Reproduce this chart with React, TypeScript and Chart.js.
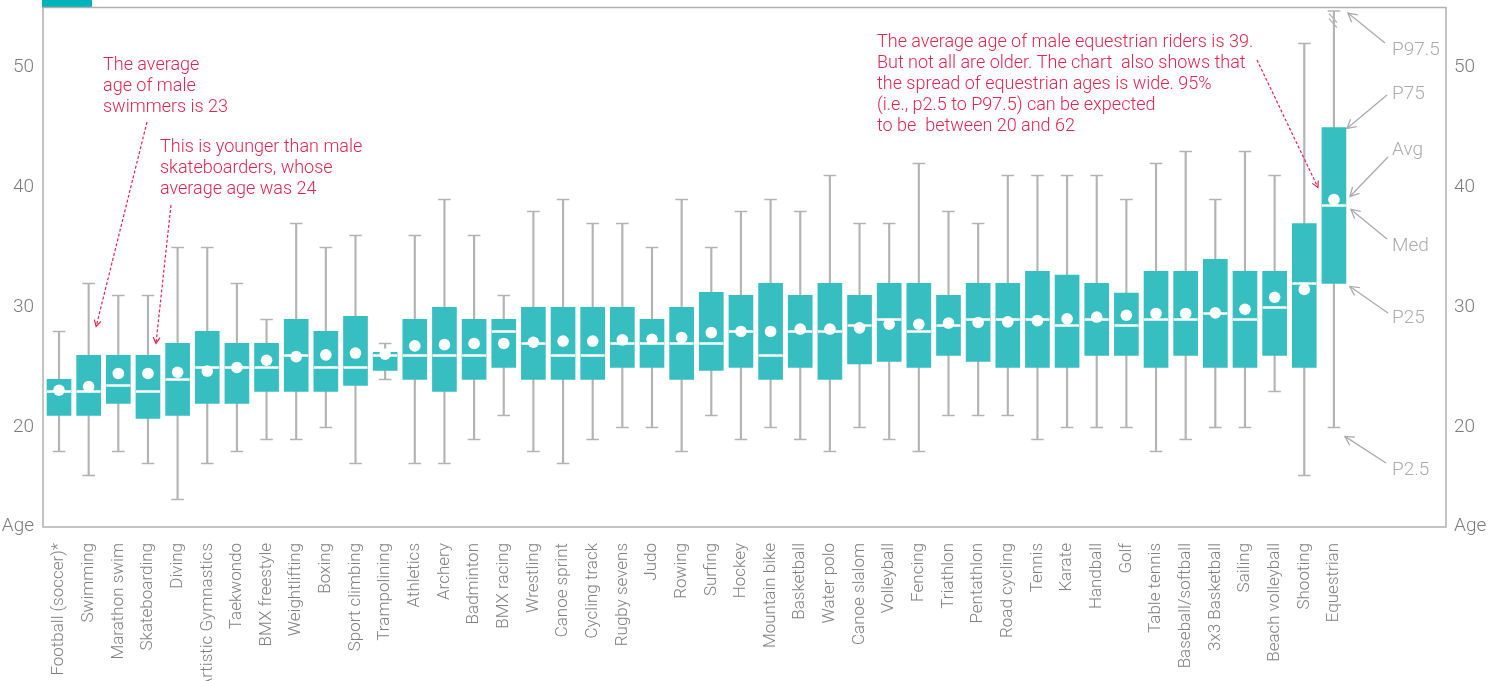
import React, { useEffect, useRef } from 'react';
import { Chart, registerables } from 'chart.js';

Chart.register(...registerables);

// ---------- data ----------
const categories = [
  'Football (soccer)*', 'Swimming', 'Marathon swim', 'Skateboarding', 'Diving',
  'Artistic Gymnastics', 'Taekwondo', 'BMX freestyle', 'Weightlifting', 'Boxing',
  'Sport climbing', 'Trampolining', 'Athletics', 'Archery', 'Badminton',
  'BMX racing', 'Wrestling', 'Canoe sprint', 'Cycling track', 'Rugby sevens',
  'Judo', 'Rowing', 'Surfing', 'Hockey', 'Mountain bike',
  'Basketball', 'Water polo', 'Canoe slalom', 'Volleyball', 'Fencing',
  'Triathlon', 'Pentathlon', 'Road cycling', 'Tennis', 'Karate',
  'Handball', 'Golf', 'Table tennis', 'Baseball/softball', '3x3 Basketball',
  'Sailing', 'Beach volleyball', 'Shooting', 'Equestrian',
];

const p025 = [18, 16, 18, 17, 14, 17, 18, 19, 19, 20, 17, 24, 17, 17, 19, 21, 18, 17, 19, 20, 20, 18, 21, 19, 20, 19, 18, 20, 19, 18, 21, 21, 21, 19, 20, 20, 20, 18, 19, 20, 20, 23, 16, 20];
const p25 = [21, 21, 22, 20.75, 21, 22, 22, 23, 23, 23, 23.5, 24.75, 24, 23, 24, 25, 24, 24, 24, 25, 25, 24, 24.75, 25, 24, 25, 24, 25.3, 25.5, 25, 26, 25.5, 25, 25, 25, 26, 26, 25, 26, 25, 25, 26, 25, 32];
const median = [23, 23, 23.5, 23, 24, 25, 25, 25, 26, 25, 25, 26, 26, 26, 26, 28, 27, 26, 26, 27, 27, 27, 27, 28, 26, 28, 28, 28.5, 29, 28, 28.5, 29, 29, 29, 28.5, 29, 28.5, 29, 29, 29.5, 29, 30, 32, 38.5];
const p75 = [24, 26, 26, 26, 27, 28, 27, 27, 29, 28, 29.25, 26.25, 29, 30, 29, 29, 30, 30, 30, 30, 29, 30, 31.25, 31, 32, 31, 32, 31, 32, 32, 31, 32, 32, 33, 32.7, 32, 31.2, 33, 33, 34, 33, 33, 37, 45];
const p975 = [28, 32, 31, 31, 35, 35, 32, 29, 37, 35, 36, 27, 36, 39, 36, 31, 38, 39, 37, 37, 35, 39, 35, 38, 39, 38, 41, 37, 37, 42, 38, 37, 41, 41, 41, 41, 39, 42, 43, 39, 43, 41, 52, 62];
const average = [23.1, 23.4, 24.5, 24.5, 24.6, 24.7, 25.0, 25.6, 25.9, 26.05, 26.2, 26.1, 26.8, 26.9, 27.0, 27.0, 27.1, 27.2, 27.2, 27.3, 27.35, 27.5, 27.9, 28.0, 28.0, 28.2, 28.2, 28.3, 28.6, 28.6, 28.7, 28.75, 28.8, 28.9, 29.05, 29.2, 29.35, 29.5, 29.5, 29.55, 29.85, 30.85, 31.5, 39];

const yTickValues = [20, 30, 40, 50];
const ageTickLabel = 'Age';

const swimNote = ['The average', 'age of male', 'swimmers is 23'];
const skateNote = ['This is younger than male', 'skateboarders, whose', 'average age was 24'];
const equestrianNote = [
  'The average age of male equestrian riders is 39.',
  'But not all are older. The chart  also shows that',
  'the spread of equestrian ages is wide. 95%',
  '(i.e., p2.5 to P97.5) can be expected',
  'to be  between 20 and 62',
];
const keyLabels = ['P97.5', 'P75', 'Avg', 'Med', 'P25', 'P2.5'];

// ---------- layout / style ----------
const W = 1495;
const H = 681;
const Y_MIN = 11.7;
const Y_MAX = 55;
const X_MIN = -0.54;
const X_MAX = 46.78;
const AGE_TICK = 11.78;

const TEAL = '#36bec1';
const TITLE_TEAL = '#00b3b8';
const WHISKER = '#b3b3b3';
const FRAME = '#b0b0b0';
const RED = '#e2254f';
const AXIS_TEXT = '#7c7c7c';
const KEY_TEXT = '#ababab';
const FONT = 'Roboto, "Open Sans", sans-serif';

function drawArrowHead(ctx: CanvasRenderingContext2D, x1: number, y1: number, x2: number, y2: number, size: number) {
  const ang = Math.atan2(y2 - y1, x2 - x1);
  ctx.beginPath();
  ctx.moveTo(x2 - size * Math.cos(ang - 0.5), y2 - size * Math.sin(ang - 0.5));
  ctx.lineTo(x2, y2);
  ctx.lineTo(x2 - size * Math.cos(ang + 0.5), y2 - size * Math.sin(ang + 0.5));
  ctx.stroke();
}

const framePlugin = {
  id: 'frameAndTitle',
  beforeDatasetsDraw(chart: any) {
    const { ctx, chartArea } = chart;
    ctx.save();
    ctx.fillStyle = TITLE_TEAL;
    ctx.fillRect(chartArea.left - 1, 0, 50, chartArea.top);
    ctx.strokeStyle = FRAME;
    ctx.lineWidth = 1.5;
    ctx.strokeRect(chartArea.left, chartArea.top, chartArea.right - chartArea.left, chartArea.bottom - chartArea.top);
    ctx.restore();
  },
};

const notesPlugin = {
  id: 'notes',
  afterDraw(chart: any) {
    const { ctx, chartArea, scales } = chart;
    const x = scales.x;
    const y = scales.y;
    const px = (i: number) => x.getPixelForValue(i);
    const py = (v: number) => y.getPixelForValue(v);
    ctx.save();

    // break marks on the equestrian whisker
    const E = categories.length - 1;
    const ex = px(E);
    ctx.strokeStyle = WHISKER;
    ctx.lineWidth = 1.2;
    for (const dy of [6, 11]) {
      ctx.beginPath();
      ctx.moveTo(ex - 5, chartArea.top + dy);
      ctx.lineTo(ex + 3, chartArea.top + dy + 9);
      ctx.stroke();
    }

    // red notes
    ctx.fillStyle = RED;
    ctx.font = `300 18px ${FONT}`;
    ctx.textBaseline = 'middle';
    ctx.textAlign = 'left';
    swimNote.forEach((t, k) => ctx.fillText(t, 103, 65.5 + k * 21));
    skateNote.forEach((t, k) => ctx.fillText(t, 160, 147.5 + k * 21));
    equestrianNote.forEach((t, k) => ctx.fillText(t, 877, 42 + k * 21.2));

    // red dashed arrows
    const redArrows = [
      { x1: 147, y1: 122, x2: px(1) + 7.5, y2: py(p75[1]) - 29 },
      { x1: 171, y1: 205, x2: px(3) + 8, y2: py(p75[3]) - 12 },
      { x1: 1257, y1: 60, x2: ex - 16, y2: py(average[E]) - 12 },
    ];
    ctx.strokeStyle = RED;
    ctx.lineWidth = 1.2;
    for (const a of redArrows) {
      ctx.setLineDash([3, 2]);
      ctx.beginPath();
      ctx.moveTo(a.x1, a.y1);
      ctx.lineTo(a.x2, a.y2);
      ctx.stroke();
      ctx.setLineDash([]);
      drawArrowHead(ctx, a.x1, a.y1, a.x2, a.y2, 7);
    }

    // key labels for the equestrian box
    const keyY = [50.5, 94.5, 150, 246, 318.5, 470.5];
    const heads = [
      { x: ex + 14, y: chartArea.top + 5.5 },
      { x: ex + 13, y: py(p75[E]) + 1 },
      { x: ex + 16, y: py(average[E]) - 3 },
      { x: ex + 17, y: py(median[E]) + 4 },
      { x: ex + 16, y: py(p25[E]) + 3 },
      { x: ex + 11, y: py(p025[E]) + 9 },
    ];
    const tails = [
      { x: 1385, y: 43 }, { x: 1387, y: 95 }, { x: 1388, y: 157 },
      { x: 1387, y: 239 }, { x: 1388, y: 313 }, { x: 1386, y: 463 },
    ];
    ctx.fillStyle = KEY_TEXT;
    ctx.strokeStyle = KEY_TEXT;
    ctx.lineWidth = 1.3;
    ctx.font = `300 19px ${FONT}`;
    keyLabels.forEach((t, k) => {
      ctx.fillText(t, 1392, keyY[k]);
      ctx.beginPath();
      ctx.moveTo(tails[k].x, tails[k].y);
      ctx.lineTo(heads[k].x, heads[k].y);
      ctx.stroke();
      drawArrowHead(ctx, tails[k].x, tails[k].y, heads[k].x, heads[k].y, 10);
    });
    ctx.restore();
  },
};

function yAxis(position: 'left' | 'right', width: number, padding: number) {
  return {
    type: 'linear',
    position,
    min: Y_MIN,
    max: Y_MAX,
    grid: { display: false, drawTicks: false },
    border: { display: false },
    afterFit: (s: any) => {
      s.width = width;
      s.paddingTop = 0;
      s.paddingBottom = 0;
    },
    afterBuildTicks: (s: any) => {
      s.ticks = [{ value: AGE_TICK }, ...yTickValues.map((v) => ({ value: v }))];
    },
    ticks: {
      padding,
      color: AXIS_TEXT,
      font: { family: FONT, size: 19, weight: '300' },
      callback: (v: number) => (v === AGE_TICK ? ageTickLabel : String(v)),
    },
  };
}

export default function App() {
  const ref = useRef<HTMLCanvasElement>(null);

  useEffect(() => {
    const idx = categories.map((_, i) => i);
    const chart = new Chart(ref.current as HTMLCanvasElement, {
      type: 'bar',
      data: {
        datasets: [
          {
            type: 'scatter',
            label: 'Average',
            data: idx.map((i) => ({ x: i, y: average[i] })),
            pointStyle: 'circle',
            pointRadius: 5.8,
            backgroundColor: '#ffffff',
            borderWidth: 0,
            order: 0,
          },
          {
            type: 'scatter',
            label: 'Median',
            data: idx.map((i) => ({ x: i, y: median[i] })),
            pointStyle: 'line',
            pointRadius: 12,
            borderColor: '#ffffff',
            borderWidth: 2.5,
            order: 1,
          },
          {
            type: 'bar',
            label: 'P25-P75',
            data: idx.map((i) => ({ x: i, y: [p25[i], p75[i]] })),
            backgroundColor: TEAL,
            barThickness: 24,
            grouped: false,
            borderWidth: 0,
            order: 2,
          },
          {
            type: 'bar',
            label: 'P2.5-P97.5',
            data: idx.map((i) => ({ x: i, y: [p025[i], p975[i]] })),
            backgroundColor: WHISKER,
            barThickness: 1.5,
            grouped: false,
            borderWidth: 0,
            order: 3,
            clip: { left: 0, right: 0, top: -3.5, bottom: 0 },
          },
          {
            type: 'scatter',
            label: 'P97.5 cap',
            data: idx.map((i) => ({ x: i, y: Math.min(p975[i], Y_MAX - 0.3) })),
            pointStyle: 'line',
            pointRadius: 6.3,
            borderColor: WHISKER,
            borderWidth: 1.5,
            order: 3,
          },
          {
            type: 'scatter',
            label: 'P2.5 cap',
            data: idx.map((i) => ({ x: i, y: p025[i] })),
            pointStyle: 'line',
            pointRadius: 6.3,
            borderColor: WHISKER,
            borderWidth: 1.5,
            order: 3,
          },
        ] as any,
      },
      options: {
        animation: false,
        responsive: false,
        maintainAspectRatio: false,
        devicePixelRatio: 1,
        events: [],
        layout: { autoPadding: false, padding: { top: 7.5, left: 0, right: 0, bottom: 0 } },
        plugins: {
          legend: { display: false },
          tooltip: { enabled: false },
          title: { display: false },
        },
        scales: {
          x: {
            type: 'linear',
            position: 'bottom',
            min: X_MIN,
            max: X_MAX,
            offset: false,
            grid: { display: false, drawTicks: false },
            border: { display: false },
            afterFit: (s: any) => {
              s.height = 154;
              s.paddingLeft = 0;
              s.paddingRight = 0;
            },
            afterBuildTicks: (s: any) => {
              s.ticks = categories.map((_, i) => ({ value: i }));
            },
            ticks: {
              autoSkip: false,
              minRotation: 90,
              maxRotation: 90,
              padding: 16,
              color: '#808080',
              font: { family: FONT, size: 17, weight: '300' },
              callback: (v: number) => categories[v] ?? '',
            },
          },
          y: yAxis('left', 43, 9),
          y2: yAxis('right', 49, 8),
        } as any,
      },
      plugins: [framePlugin, notesPlugin],
    } as any);
    return () => chart.destroy();
  }, []);

  return (
    <div style={{ position: 'absolute', left: 0, top: 0, width: W, height: H, background: '#ffffff' }}>
      <canvas ref={ref} width={W} height={H} style={{ display: 'block', width: W, height: H }} />
    </div>
  );
}
